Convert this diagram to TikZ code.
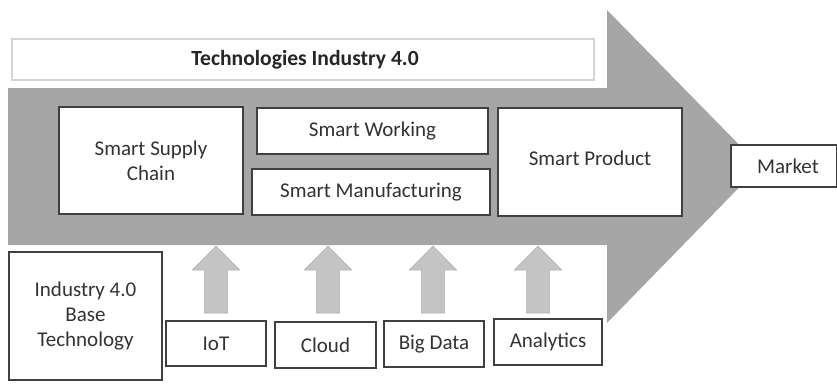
\documentclass[tikz,border=0pt]{standalone}
\usepackage{fontspec}
\setmainfont{Carlito}
\usetikzlibrary{calc}
\definecolor{bigarrow}{HTML}{A6A6A6}
\definecolor{smallarrow}{HTML}{C4C4C4}
\definecolor{boxline}{HTML}{404040}
\definecolor{txt}{HTML}{333333}
\definecolor{titleline}{HTML}{D4D4D4}
\begin{document}
\begin{tikzpicture}[x=0.75pt,y=-0.75pt,
  font=\fontsize{15.75}{19}\selectfont,
  bx/.style 2 args={draw=boxline, line width=0.9pt, fill=white, text=txt,
    minimum width=#1*0.75pt, minimum height=#2*0.75pt, inner sep=0pt, align=center},
  uparrow/.pic={\fill[smallarrow, draw=black!30, line width=0.4pt]
     (-11.7,67) -- (-11.7,24) -- (-23.7,24) -- (0,0) -- (23.7,24) -- (11.7,24) -- (11.7,67) -- cycle;}
]
\useasboundingbox (0,0) rectangle (837,383);
% big arrow
\fill[bigarrow] (8,88) -- (607,88) -- (607,10) -- (760,166) -- (607,323) -- (607,245) -- (8,245) -- cycle;
% title
\node[bx={582}{41}, draw=titleline, line width=1.4pt, font=\fontsize{16.2}{19}\selectfont\bfseries, text=black!85] (title) at (303,59.5) {\hspace{3pt}Technologies Industry 4.0};
% top boxes
\node[bx={184}{107}] (supply) at (151,160.5) {Smart Supply\\Chain};
\node[bx={231}{46}] (working) at (372.5,131) {Smart Working};
\node[bx={238}{46}] (manuf) at (371,192) {Smart Manufacturing};
\node[bx={184}{108}] (product) at (590,162) {\raisebox{5.5pt}{Smart Product}};
\node[bx={106}{42}] (market) at (784,166) {\hspace{6pt}Market};
% bottom boxes
\node[bx={153}{128}] (base) at (85.5,316) {Industry 4.0\\Base\\Technology};
\node[bx={100}{45}] (iot) at (216,343.5) {IoT};
\node[bx={101}{46}] (cloud) at (325.5,345) {Cloud};
\node[bx={100}{46}] (bigdata) at (434,344) {Big Data};
\node[bx={108}{46}] (analytics) at (548,342) {Analytics};
% small up arrows
\pic at (216,246) {uparrow};
\pic at (328,246) {uparrow};
\pic at (433,246) {uparrow};
\pic at (538,246) {uparrow};
\end{tikzpicture}
\end{document}
